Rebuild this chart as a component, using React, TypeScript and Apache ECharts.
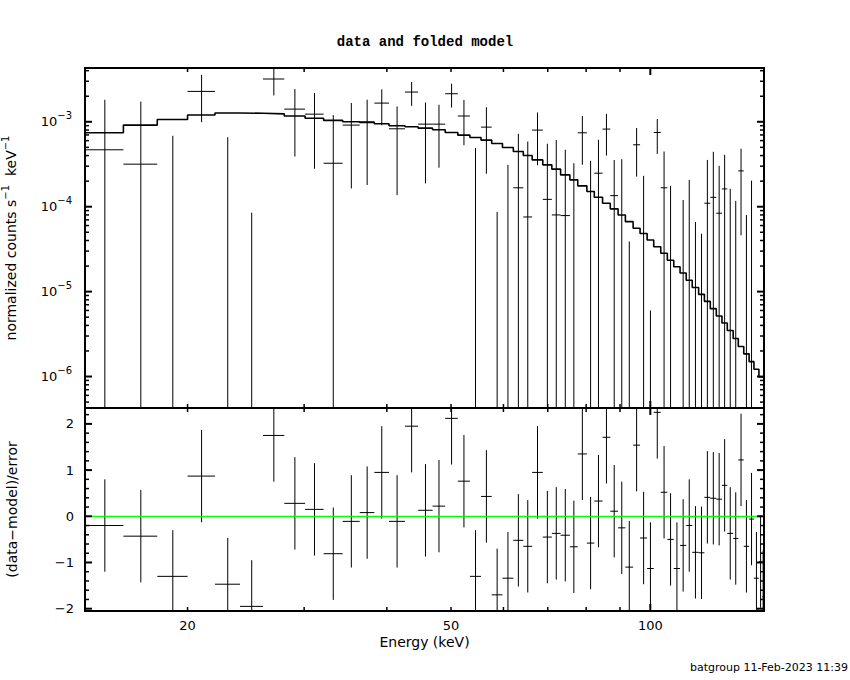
import React, { useEffect, useRef } from "react";
import * as echarts from "echarts";

// ---- data ----
const binEdges = [
  14, 16, 18, 20, 22, 24, 26, 28, 30.1, 32.1, 34.3, 36.4, 38.3, 40.3, 42.6, 44.6, 46.9, 49.0,
  51.2, 53.4, 55.5, 57.6, 59.8, 62.1, 64.3, 66.3, 68.8, 71.0, 73.2, 75.6, 77.7, 80.2, 82.3,
  84.7, 87.0, 89.4, 91.7, 94.2, 96.5, 98.9, 101.2, 103.7, 106.1, 108.5, 110.9, 113.3, 115.7,
  118.3, 120.7, 123.2, 125.8, 128.3, 130.7, 133.4, 135.8, 138.4, 141.0, 143.4, 145.9, 147.6, 148.5,
];

const modelValues = [
  7.42e-4, 9.14e-4, 1.064e-3, 1.2e-3, 1.27e-3, 1.26e-3, 1.24e-3, 1.17e-3, 1.1e-3, 1.04e-3,
  1.0e-3, 9.8e-4, 9.47e-4, 8.97e-4, 8.73e-4, 8.42e-4, 8.05e-4, 7.48e-4, 6.96e-4, 6.53e-4,
  6.09e-4, 5.55e-4, 4.97e-4, 4.47e-4, 4.01e-4, 3.56e-4, 3.11e-4, 2.77e-4, 2.37e-4, 2.07e-4,
  1.76e-4, 1.51e-4, 1.29e-4, 1.1e-4, 9.42e-5, 8.0e-5, 6.67e-5, 5.57e-5, 4.84e-5, 4.06e-5,
  3.38e-5, 2.83e-5, 2.34e-5, 1.96e-5, 1.66e-5, 1.36e-5, 1.12e-5, 9.29e-6, 7.68e-6, 6.3e-6,
  5.16e-6, 4.27e-6, 3.49e-6, 2.81e-6, 2.26e-6, 1.85e-6, 1.5e-6, 1.22e-6, 9.9e-7, 9.9e-7,
];

const dataValues = [
  4.68e-4, 3.17e-4, -5.83e-4, 2.28e-3, -6.37e-4, -1.163e-3, 3.19e-3, 1.41e-3, 1.23e-3, 3.25e-4,
  9.14e-4, 1.0e-3, 1.66e-3, 8.27e-4, 2.24e-3, 9.38e-4, 9.38e-4, 2.14e-3, 1.17e-3, -5.3e-5,
  8.65e-4, -5.82e-4, -2.36e-4, 1.67e-4, 7.57e-5, 7.98e-4, 1.22e-4, 8.0e-5, 7.86e-5, -2.2e-5,
  7.42e-4, -1.2e-4, 2.48e-4, 8.2e-4, 1.35e-4, -1.4e-5, -2.34e-4, 5.36e-4, -1.15e-4, -2.63e-4,
  7.48e-4, 1.67e-4, -1.29e-4, -2.97e-4, -1.6e-4, -3.5e-5, -1.83e-4, -1.35e-4, 1.1e-4, 1.29e-4,
  8.38e-5, 1.62e-4, -8.97e-5, -1.03e-4, 2.64e-4, -1.43e-4, -1.13e-5, -2.94e-4, -2.25e-4, -3.9e-4,
];

const dataErrors = [
  1.35e-3, 1.41e-3, 1.267e-3, 1.29e-3, 1.296e-3, 1.248e-3, 1.15e-3, 1.02e-3, 9.5e-4, 8.75e-4,
  7.5e-4, 8.2e-4, 7.5e-4, 6.9e-4, 7.0e-4, 7.5e-4, 6.5e-4, 6.7e-4, 6.4e-4, 5.43e-4,
  6.2e-4, 6.69e-4, 5.47e-4, 5.55e-4, 5.1e-4, 4.9e-4, 4.3e-4, 5.3e-4, 3.9e-4, 3.47e-4,
  4.3e-4, 4.67e-4, 3.66e-4, 4.2e-4, 2.2e-4, 3.77e-4, 2.73e-4, 3.1e-4, 3.46e-4, 2.69e-4,
  3.3e-4, 2.8e-4, 3.05e-4, 2.8e-4, 2.8e-4, 2.42e-4, 2.49e-4, 1.83e-4, 2.46e-4, 3.14e-4,
  2.19e-4, 2.46e-4, 2.52e-4, 2.2e-4, 2.18e-4, 2.23e-4, 2.14e-4, 2.2e-4, 2.2e-4, 2.25e-4,
];

const residuals = [
  -0.2, -0.43, -1.3, 0.87, -1.47, -1.95, 1.75, 0.28, 0.15, -0.81,
  -0.11, 0.08, 0.95, -0.11, 1.95, 0.13, 0.22, 2.12, 0.76, -1.3,
  0.43, -1.7, -1.34, -0.52, -0.65, 0.95, -0.45, -0.37, -0.41, -0.66,
  1.35, -0.58, 0.33, 1.71, 0.11, -0.25, -1.1, 1.54, -0.47, -1.13,
  2.25, 0.52, -0.5, -1.13, -0.63, -0.2, -0.78, -0.79, 0.41, 0.39,
  0.37, 0.67, -0.37, -0.48, 1.22, -0.65, -0.06, -1.34, -0.98, -1.74,
];

const xMinorTicks = [20, 30, 40, 50, 60, 70, 80, 90];
const xMajorTicks = [100];
const xTickLabels = [20, 50, 100];
const yTopMajorTicks = [1e-6, 1e-5, 1e-4, 1e-3];
const yTopMinorTicks = [
  5e-7, 6e-7, 7e-7, 8e-7, 9e-7,
  2e-6, 3e-6, 4e-6, 5e-6, 6e-6, 7e-6, 8e-6, 9e-6,
  2e-5, 3e-5, 4e-5, 5e-5, 6e-5, 7e-5, 8e-5, 9e-5,
  2e-4, 3e-4, 4e-4, 5e-4, 6e-4, 7e-4, 8e-4, 9e-4,
  2e-3, 3e-3, 4e-3,
];
const yBotMajorTicks = [-2, -1, 0, 1, 2];
const yBotMinorTicks = [
  -1.8, -1.6, -1.4, -1.2, -0.8, -0.6, -0.4, -0.2, 0.2, 0.4, 0.6, 0.8, 1.2, 1.4, 1.6, 1.8, 2.2,
];

const X_MIN = 14;
const X_MAX = 148.5;
const YT_MIN = 4.26e-7;
const YT_MAX = 4.3e-3;
const YB_MIN = -2.05;
const YB_MAX = 2.344;

const FONT = "DejaVu Sans";
const MINUS = "\u2212";

function xTickSeries(gi: number, ticks: number[], yMin: number, yMax: number, len: number, lw: number) {
  return {
    type: "custom",
    xAxisIndex: gi,
    yAxisIndex: gi,
    silent: true,
    z: 10,
    data: ticks.map((v) => [v, yMin]),
    renderItem: (_p: any, api: any) => {
      const x = api.value(0);
      const b = api.coord([x, yMin]);
      const t = api.coord([x, yMax]);
      const st = { stroke: "#000", lineWidth: lw };
      return {
        type: "group",
        children: [
          { type: "line", shape: { x1: b[0], y1: b[1], x2: b[0], y2: b[1] - len }, style: st },
          { type: "line", shape: { x1: t[0], y1: t[1], x2: t[0], y2: t[1] + len }, style: st },
        ],
      };
    },
  };
}

function yTickSeries(gi: number, ticks: number[], len: number, lw: number) {
  return {
    type: "custom",
    xAxisIndex: gi,
    yAxisIndex: gi,
    silent: true,
    z: 10,
    data: ticks.map((v) => [X_MIN, v]),
    renderItem: (_p: any, api: any) => {
      const y = api.value(1);
      const l = api.coord([X_MIN, y]);
      const r = api.coord([X_MAX, y]);
      const st = { stroke: "#000", lineWidth: lw };
      return {
        type: "group",
        children: [
          { type: "line", shape: { x1: l[0], y1: l[1], x2: l[0] + len, y2: l[1] }, style: st },
          { type: "line", shape: { x1: r[0], y1: r[1], x2: r[0] - len, y2: r[1] }, style: st },
        ],
      };
    },
  };
}

const supRich = {
  b: { fontSize: 13, fontFamily: FONT, color: "#000", verticalAlign: "middle" },
  s: { fontSize: 10, fontFamily: FONT, color: "#000", verticalAlign: "middle", padding: [0, 0, 12, 0] },
};
const nameRich = {
  a: { fontSize: 14, fontFamily: FONT, color: "#000", verticalAlign: "middle" },
  s: { fontSize: 10, fontFamily: FONT, color: "#000", verticalAlign: "middle", padding: [0, 0, 12, 0] },
};

function buildOption() {
  const nBins = modelValues.length;
  const bins = Array.from({ length: nBins }, (_, i) => ({
    lo: binEdges[i],
    hi: binEdges[i + 1],
    c: (binEdges[i] + binEdges[i + 1]) / 2,
  }));

  const modelLine: number[][] = [];
  bins.forEach((b, i) => {
    modelLine.push([b.lo, modelValues[i]]);
    modelLine.push([b.hi, modelValues[i]]);
  });

  const lineSt = { stroke: "#000", lineWidth: 1 };

  const dataSeries = {
    type: "custom",
    name: "data",
    xAxisIndex: 0,
    yAxisIndex: 0,
    silent: true,
    z: 4,
    dimensions: ["energy", "lo", "hi", "counts", "error"],
    encode: { x: 0, y: 3 },
    data: bins.map((b, i) => [b.c, b.lo, b.hi, dataValues[i], dataErrors[i]]),
    renderItem: (_p: any, api: any) => {
      const xc = api.value(0);
      const lo = api.value(1);
      const hi = api.value(2);
      const v = api.value(3);
      const e = api.value(4);
      const children: any[] = [];
      const top = Math.min(v + e, YT_MAX);
      if (top > YT_MIN) {
        const bot = Math.max(v - e, YT_MIN);
        const a = api.coord([xc, top]);
        const b = api.coord([xc, bot]);
        children.push({ type: "line", shape: { x1: a[0], y1: a[1], x2: b[0], y2: b[1] }, style: lineSt });
      }
      if (v > YT_MIN && v < YT_MAX) {
        const l = api.coord([lo, v]);
        const r = api.coord([hi, v]);
        children.push({ type: "line", shape: { x1: l[0], y1: l[1], x2: r[0], y2: r[1] }, style: lineSt });
      }
      return { type: "group", children };
    },
  };

  const residSeries = {
    type: "custom",
    name: "residuals",
    xAxisIndex: 1,
    yAxisIndex: 1,
    silent: true,
    z: 4,
    dimensions: ["energy", "lo", "hi", "residual"],
    encode: { x: 0, y: 3 },
    data: bins.map((b, i) => [b.c, b.lo, b.hi, residuals[i]]),
    renderItem: (_p: any, api: any) => {
      const xc = api.value(0);
      const lo = api.value(1);
      const hi = api.value(2);
      const v = api.value(3);
      const children: any[] = [];
      const top = Math.min(v + 1, YB_MAX);
      const bot = Math.max(v - 1, YB_MIN);
      if (top > YB_MIN && bot < YB_MAX) {
        const a = api.coord([xc, top]);
        const b = api.coord([xc, bot]);
        children.push({ type: "line", shape: { x1: a[0], y1: a[1], x2: b[0], y2: b[1] }, style: lineSt });
      }
      if (v > YB_MIN && v < YB_MAX) {
        const l = api.coord([lo, v]);
        const r = api.coord([hi, v]);
        children.push({ type: "line", shape: { x1: l[0], y1: l[1], x2: r[0], y2: r[1] }, style: lineSt });
      }
      return { type: "group", children };
    },
  };

  const xLabelSeries = {
    type: "custom",
    xAxisIndex: 1,
    yAxisIndex: 1,
    silent: true,
    z: 10,
    data: xTickLabels.map((v) => [v, YB_MIN]),
    renderItem: (_p: any, api: any) => {
      const v = api.value(0);
      const c = api.coord([v, YB_MIN]);
      return {
        type: "text",
        x: c[0],
        y: c[1] + 14,
        style: {
          text: String(v),
          fill: "#000",
          font: `13px "${FONT}"`,
          align: "center",
          verticalAlign: "middle",
        },
      };
    },
  };

  const hiddenAxis = {
    axisLine: { show: false },
    axisTick: { show: false },
    splitLine: { show: false },
    minorTick: { show: false },
    minorSplitLine: { show: false },
  };

  return {
    animation: false,
    backgroundColor: "#ffffff",
    textStyle: { fontFamily: FONT },
    title: {
      text: "data and folded model",
      left: "center",
      top: 30,
      textStyle: { fontFamily: "Liberation Mono", fontWeight: "bold", fontSize: 14, color: "#000" },
    },
    grid: [
      { left: 85, top: 68, width: 679, height: 340, show: true, borderColor: "#000", borderWidth: 2, backgroundColor: "transparent", outerBoundsMode: "none" },
      { left: 85, top: 408, width: 679, height: 203, show: true, borderColor: "#000", borderWidth: 2, backgroundColor: "transparent", outerBoundsMode: "none" },
    ],
    xAxis: [
      { gridIndex: 0, type: "log", logBase: 10, min: X_MIN, max: X_MAX, axisLabel: { show: false }, ...hiddenAxis },
      {
        gridIndex: 1,
        type: "log",
        logBase: 10,
        min: X_MIN,
        max: X_MAX,
        axisLabel: { show: false },
        ...hiddenAxis,
        name: "Energy (keV)",
        nameLocation: "middle",
        nameGap: 24,
        nameTextStyle: { fontSize: 14, color: "#000", fontFamily: FONT },
      },
    ],
    yAxis: [
      {
        gridIndex: 0,
        type: "log",
        logBase: 10,
        min: YT_MIN,
        max: YT_MAX,
        ...hiddenAxis,
        axisLabel: {
          margin: 13,
          formatter: (v: number) => {
            const lg = Math.log10(v);
            const e = Math.round(lg);
            if (Math.abs(lg - e) > 1e-6) return "";
            return `{b|10}{s|${MINUS}${-e}}`;
          },
          rich: supRich,
        },
        name: `{a|normalized counts s}{s|${MINUS}1}{a|  keV}{s|${MINUS}1}`,
        nameLocation: "middle",
        nameGap: 63,
        nameTextStyle: { rich: nameRich },
      },
      {
        gridIndex: 1,
        type: "value",
        min: YB_MIN,
        max: YB_MAX,
        ...hiddenAxis,
        axisLabel: {
          margin: 11,
          fontSize: 13,
          color: "#000",
          fontFamily: FONT,
          formatter: (v: number) => {
            const r = Math.round(v);
            if (Math.abs(v - r) > 1e-6) return "";
            return r < 0 ? `${MINUS}${-r}` : String(r);
          },
        },
        name: `(data${MINUS}model)/error`,
        nameLocation: "middle",
        nameGap: 66,
        nameTextStyle: { fontSize: 14, color: "#000", fontFamily: FONT },
      },
    ],
    graphic: [
      {
        type: "text",
        right: 2,
        top: 662,
        style: { text: "batgroup 11-Feb-2023 11:39", font: `11px "${FONT}"`, fill: "#000" },
      },
    ],
    series: [
      {
        type: "line",
        name: "model",
        xAxisIndex: 0,
        yAxisIndex: 0,
        data: modelLine,
        symbol: "none",
        showSymbol: false,
        silent: true,
        z: 3,
        lineStyle: { color: "#000", width: 1.6 },
      },
      dataSeries,
      residSeries,
      {
        type: "line",
        name: "zero",
        xAxisIndex: 1,
        yAxisIndex: 1,
        data: [
          [X_MIN, 0],
          [X_MAX, 0],
        ],
        symbol: "none",
        showSymbol: false,
        silent: true,
        z: 5,
        lineStyle: { color: "#00ff00", width: 1.2 },
      },
      xTickSeries(0, xMinorTicks, YT_MIN, YT_MAX, 4, 1.5),
      xTickSeries(0, xMajorTicks, YT_MIN, YT_MAX, 7, 2),
      xTickSeries(1, xMinorTicks, YB_MIN, YB_MAX, 4, 1.5),
      xTickSeries(1, xMajorTicks, YB_MIN, YB_MAX, 7, 2),
      yTickSeries(0, yTopMajorTicks, 7, 2),
      yTickSeries(0, yTopMinorTicks, 4, 1.5),
      yTickSeries(1, yBotMajorTicks, 7, 2),
      yTickSeries(1, yBotMinorTicks, 4, 1.5),
      xLabelSeries,
    ],
  };
}

export default function App() {
  const ref = useRef<HTMLDivElement>(null);
  useEffect(() => {
    if (!ref.current) return;
    const chart = echarts.init(ref.current, null, { renderer: "svg" });
    chart.setOption(buildOption() as any);
    return () => chart.dispose();
  }, []);
  return (
    <div
      ref={ref}
      style={{ position: "absolute", left: 0, top: 0, width: 850, height: 680, background: "#fff" }}
    />
  );
}
